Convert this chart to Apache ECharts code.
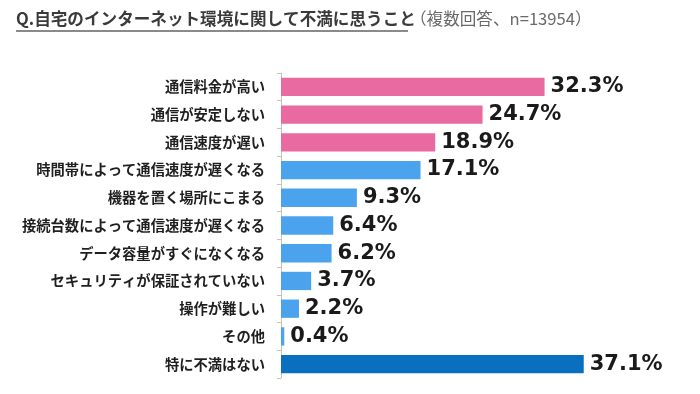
<!DOCTYPE html>
<html>
<head>
<meta charset="utf-8">
<script src="https://cdn.jsdelivr.net/npm/echarts@6/dist/echarts.min.js"></script>
<style>
html,body{margin:0;padding:0;background:#fff;}
#c{width:700px;height:394px;}
</style>
</head>
<body>
<div id="c"></div>
<script>
const categories = ["通信料金が高い","通信が安定しない","通信速度が遅い","時間帯によって通信速度が遅くなる","機器を置く場所にこまる","接続台数によって通信速度が遅くなる","データ容量がすぐになくなる","セキュリティが保証されていない","操作が難しい","その他","特に不満はない"];
const values = [32.3, 24.7, 18.9, 17.1, 9.3, 6.4, 6.2, 3.7, 2.2, 0.4, 37.1];
const colorGroups = ["pink","pink","pink","blue","blue","blue","blue","blue","blue","blue","dark"];
const palette = {pink:"#E96AA1", blue:"#4BA3EE", dark:"#0B6FC0"};
const titleMain = "Q.自宅のインターネット環境に関して不満に思うこと";
const titleSub = "（複数回答、n=13954）";

const chart = echarts.init(document.getElementById('c'), null, {renderer:'canvas'});
const jp = '"Noto Sans CJK JP", sans-serif';
chart.setOption({
  animation:false,
  backgroundColor:'#fff',
  grid:{left:281, top:73, height:305, width:326.4},
  xAxis:{type:'value', min:0, max:40, show:false},
  yAxis:{
    type:'category', data:categories, inverse:true,
    axisLine:{show:true, lineStyle:{color:'#C9C2BA', width:1}},
    axisTick:{show:true, length:4, lineStyle:{color:'#C9C2BA'}},
    axisLabel:{margin:16, fontFamily:jp, fontSize:14.3, fontWeight:'bold', color:'#1f1f1f'}
  },
  series:[{
    type:'bar', barWidth:'66%',
    data: values.map((v,i)=>({value:v, itemStyle:{color:palette[colorGroups[i]]}})),
    label:{show:true, position:'right', distance:6, formatter: p => p.value.toFixed(1)+'%',
      fontFamily:'"DejaVu Sans", sans-serif', fontSize:21, fontWeight:'bold', color:'#1a1a1a'}
  }],
  graphic:[
    {type:'text', left:16, top:10, style:{
      text:titleMain, font:'bold 16.6px "Noto Sans CJK JP"', fill:'#3a3a3a'}},
    {type:'text', left:410, top:10, style:{
      text:titleSub, font:'normal 16.6px "Noto Sans CJK JP"', fill:'#6a6a6a'}},
    {type:'line', shape:{x1:16, y1:31, x2:408, y2:31}, style:{stroke:'#8a8a8a', lineWidth:2}}
  ]
});
</script>
</body>
</html>
